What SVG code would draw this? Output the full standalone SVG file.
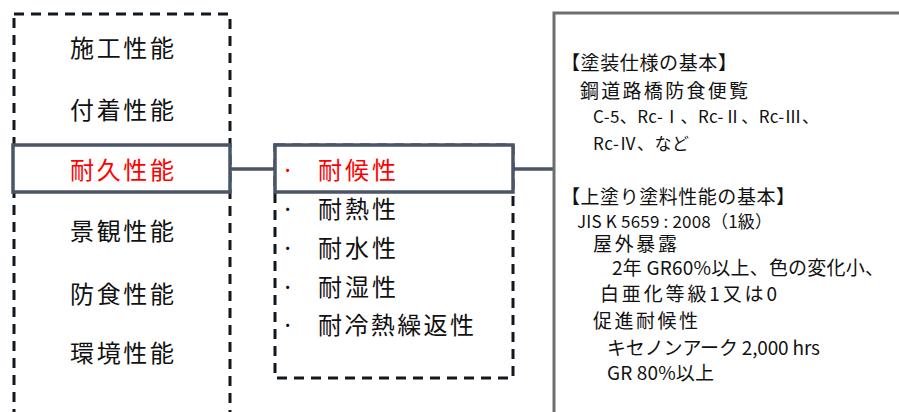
<svg xmlns="http://www.w3.org/2000/svg" width="899" height="412" viewBox="0 0 899 412">
<style>
.dash{fill:none;stroke:#111820;stroke-width:3;stroke-dasharray:10 7}
.hl{fill:#fff;stroke:#4a5568;stroke-width:3.5}
.conn{stroke:#4a5568;stroke-width:3.5;fill:none}
.lbl{font-family:"Noto Sans CJK JP","Noto Sans",sans-serif;font-size:24px;fill:#111}
.red{fill:#ff0000}
.info{font-family:"Noto Sans CJK JP","Noto Sans",sans-serif;font-size:19px;fill:#111}
.small{font-size:17px}
</style>
<rect width="899" height="412" fill="#fff"/>
<g id="connectors">
<line class="conn" x1="230" y1="169" x2="275" y2="169"/>
<line class="conn" x1="513" y1="169" x2="555" y2="169"/>
</g>
<g id="left-group">
<rect class="dash" x="14" y="14" width="216" height="420"/>
<text class="lbl" x="70" y="57" textLength="104">施工性能</text>
<text class="lbl" x="70" y="119" textLength="104">付着性能</text>
<rect class="hl" x="13" y="145" width="217" height="47"/>
<text class="lbl red" x="70" y="179" textLength="104">耐久性能</text>
<text class="lbl" x="70" y="240" textLength="104">景観性能</text>
<text class="lbl" x="70" y="303" textLength="104">防食性能</text>
<text class="lbl" x="70" y="362" textLength="104">環境性能</text>
</g>
<g id="middle-group">
<rect class="dash" x="275" y="145" width="238" height="233"/>
<rect class="hl" x="275" y="145" width="238" height="47"/>
<text class="lbl red" x="281" y="179">·</text>
<text class="lbl red" x="318" y="179" textLength="78">耐候性</text>
<text class="lbl" x="281" y="218">·</text>
<text class="lbl" x="318" y="218" textLength="78">耐熱性</text>
<text class="lbl" x="281" y="257">·</text>
<text class="lbl" x="318" y="257" textLength="78">耐水性</text>
<text class="lbl" x="281" y="296">·</text>
<text class="lbl" x="318" y="296" textLength="78">耐湿性</text>
<text class="lbl" x="281" y="334">·</text>
<text class="lbl" x="318" y="334" textLength="156">耐冷熱繰返性</text>
</g>
<g id="info-box">
<rect x="554" y="13" width="360" height="420" fill="#fff" stroke="#6e6e6e" stroke-width="3"/>
<text class="info" x="561" y="70" textLength="176">【塗装仕様の基本】</text>
<text class="info" x="580" y="98" textLength="168">鋼道路橋防食便覧</text>
<text class="info small" x="593" y="123" textLength="226">C-5、Rc-Ⅰ、Rc-Ⅱ、Rc-Ⅲ、</text>
<text class="info small" x="593" y="150" textLength="96">Rc-Ⅳ、など</text>
<text class="info" x="561" y="204" textLength="234">【上塗り塗料性能の基本】</text>
<text class="info small" x="577" y="228" textLength="195">JIS K 5659 : 2008（1級）</text>
<text class="info" x="593" y="251" textLength="84">屋外暴露</text>
<text class="info" x="612" y="275" textLength="272">2年 GR60%以上、色の変化小、</text>
<text class="info" x="600" y="301" textLength="177">白亜化等級1又は0</text>
<text class="info" x="593" y="328" textLength="105">促進耐候性</text>
<text class="info" x="607" y="355" textLength="213">キセノンアーク 2,000 hrs</text>
<text class="info" x="607" y="380" textLength="107">GR 80%以上</text>
</g>
</svg>
